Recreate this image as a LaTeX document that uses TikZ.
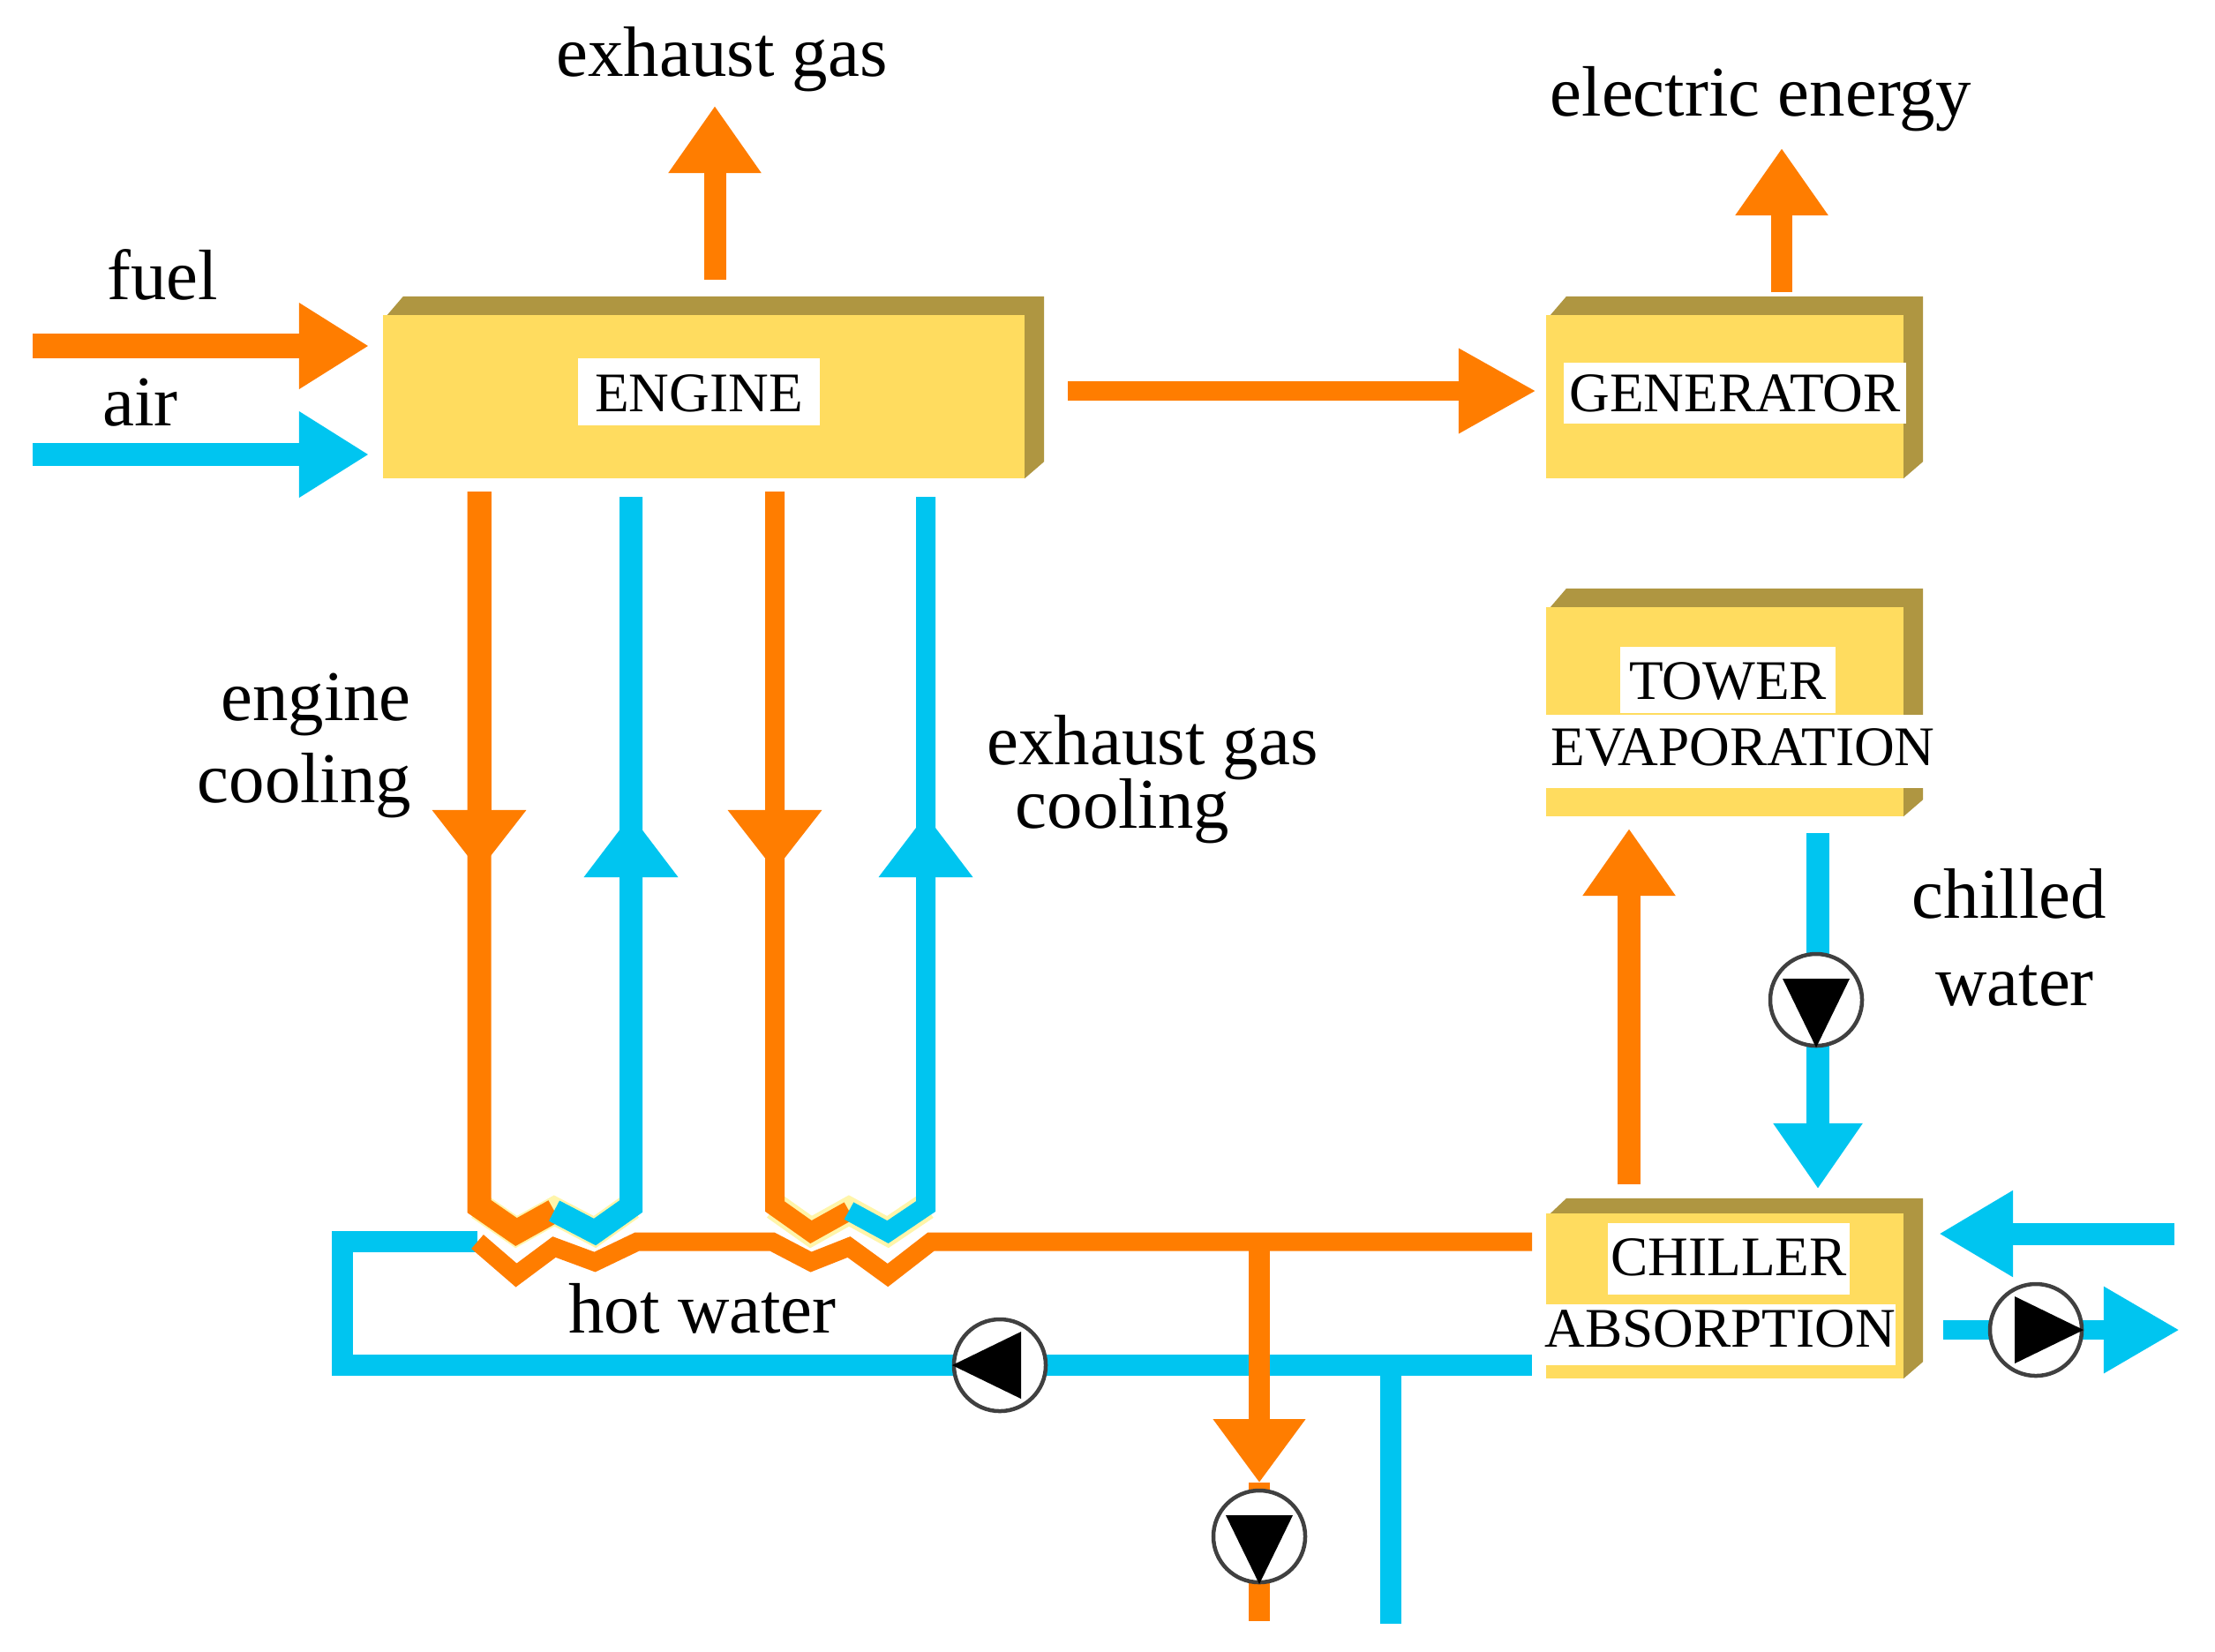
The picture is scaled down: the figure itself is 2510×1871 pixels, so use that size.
\documentclass[tikz,border=0pt]{standalone}
\usepackage{fontspec}
\setmainfont{Liberation Serif}
\usetikzlibrary{arrows.meta,calc,backgrounds}
\definecolor{orng}{RGB}{255,125,0}
\definecolor{blu}{RGB}{0,197,240}
\definecolor{boxy}{RGB}{255,220,95}
\definecolor{boxd}{RGB}{175,150,65}
\definecolor{pale}{RGB}{255,245,170}
\tikzset{
 face/.style={fill=boxy,inner sep=0pt,outer sep=0pt,minimum width=#1},
 biglabel/.style={font=\fontsize{23}{25}\selectfont,anchor=base,inner sep=0pt},
 boxlabel/.style={font=\fontsize{18}{20}\selectfont,anchor=base,inner xsep=0pt,inner ysep=0pt,fill=white},
 pump/.style={circle,draw=black!75,line width=0.045cm,fill=white,minimum size=1.04cm,inner sep=0pt},
 oline/.style={draw=orng,line width=#1,line join=miter},
 oline/.default=0.24cm,
 bline/.style={draw=blu,line width=#1,line join=miter},
 bline/.default=0.24cm,
 head/.style={-{Triangle[length=0.76cm,width=1.0cm]}},
}
\newcommand{\bevel}[2]{\fill[boxd] ($(#1.north west)+(5,0)$) -- ($(#1.north west)+(23,-#2)$) -- ($(#1.north east)+(22,-#2)$) -- ($(#1.south east)+(22,-19)$) -- (#1.south east) -- (#1.north east) -- cycle;}
\newcommand{\pumptri}[2]{\begin{scope}[shift={(#1.center)},rotate=#2]\fill[black] (54,0) -- (-24,38) -- (-24,-38) -- cycle;\end{scope}}
\begin{document}
\begin{tikzpicture}[x=0.01cm,y=-0.01cm]
\useasboundingbox (0,0) rectangle (2510,1871);
\begin{scope}[on background layer]
\fill[white] (0,0) rectangle (2510,1871);
\end{scope}
% boxes (front faces)
\node[face=7.27cm,minimum height=1.85cm] (engine) at (797.5,449.5) {};
\node[face=4.05cm,minimum height=1.85cm] (generator) at (1954.5,449.5) {};
\node[face=4.05cm,minimum height=2.37cm] (tower) at (1954.5,806.5) {};
\node[face=4.05cm,minimum height=1.87cm] (chiller) at (1954.5,1468.5) {};
\bevel{engine}{21}\bevel{generator}{21}\bevel{tower}{21}\bevel{chiller}{17}
% box labels
\node[boxlabel,minimum width=2.73cm,text height=0.60cm,text depth=0.16cm] (lengine) at (792,466) {ENGINE};
\node[boxlabel,minimum width=3.88cm,text height=0.55cm,text depth=0.14cm] (lgenerator) at (1966,466) {GENERATOR};
\node[boxlabel,minimum width=2.43cm,text height=0.59cm,text depth=0.16cm] (ltower) at (1958,792) {TOWER};
\node[boxlabel,minimum width=4.51cm,text height=0.57cm,text depth=0.26cm] (levap) at (1975,867) {EVAPORATION};
\node[boxlabel,minimum width=2.74cm,text height=0.59cm,text depth=0.22cm] (lchiller) at (1959,1445) {CHILLER};
\node[boxlabel,minimum width=3.94cm,text height=0.48cm,text depth=0.21cm] (labsorp) at (1949,1526) {ABSORPTION};
% free labels
\node[biglabel] (texh) at (818,86) {exhaust gas};
\node[biglabel] (tele) at (1995,131) {electric energy};
\node[biglabel] (tfuel) at (184,339) {fuel};
\node[biglabel] (tair) at (159,482) {air};
\node[biglabel] (teng) at (358,816) {engine};
\node[biglabel] (tcool) at (345,909) {cooling};
\node[biglabel] (texh2) at (1306,866) {exhaust gas};
\node[biglabel] (tcool2) at (1272,938) {cooling};
\node[biglabel] (tchil) at (2277,1040) {chilled};
\node[biglabel] (twat) at (2283,1139) {water};
\node[biglabel] (thot) at (796,1510) {hot water};
% pumps
\node[pump] (p1) at (1133,1547) {};
\node[pump] (p2) at (1427,1741) {};
\node[pump] (p3) at (2058,1133) {};
\node[pump] (p4) at (2307,1507) {};
\pumptri{p1}{180}\pumptri{p2}{-90}\pumptri{p3}{-90}\pumptri{p4}{0}
% free ends
\coordinate (a1) at (810,317); \coordinate (a2) at (810,120);
\coordinate (b1) at (2019,331); \coordinate (b2) at (2019,168);
\coordinate (c1) at (37,392); \coordinate (c2) at (418,392);
\coordinate (d1) at (37,515); \coordinate (d2) at (418,515);
\coordinate (e1) at (1210,443); \coordinate (e2) at (1741,443);
\coordinate (o1t) at (543,557); \coordinate (o1h) at (543,987); \coordinate (o1b) at (543,1367);
\coordinate (u1t) at (715,563); \coordinate (u1h) at (715,923); \coordinate (u1b) at (715,1367);
\coordinate (o2t) at (878,557); \coordinate (o2h) at (878,987); \coordinate (o2b) at (878,1367);
\coordinate (u2t) at (1049,563); \coordinate (u2h) at (1049,923); \coordinate (u2b) at (1049,1367);
\coordinate (hL) at (541,1407); \coordinate (hR) at (1736,1407);
\coordinate (cL) at (388,1407); \coordinate (cB) at (388,1547); \coordinate (rR) at (1736,1547);
\coordinate (rj) at (1576,1547); \coordinate (rb) at (1576,1840);
\coordinate (hj) at (1427,1407); \coordinate (ht) at (1427,1680); \coordinate (hb) at (1427,1837);
\coordinate (f1) at (1846,1342); \coordinate (f2) at (1846,939);
\coordinate (g1) at (2060,944); \coordinate (g2) at (2060,1347);
\coordinate (k1) at (2464,1398); \coordinate (k2) at (2197,1398);
\coordinate (m1) at (2202,1507); \coordinate (m2) at (2470,1507);
\begin{scope}[on background layer]
% hot water loop (blue)
\draw[bline=0.24cm] (hL) -- (cL) -- (cB) -- (rR);
\draw[bline=0.24cm] (rj) -- (rb);
% simple arrows
\draw[oline=0.25cm,head] (a1) -- (a2);
\draw[oline=0.24cm,head] (b1) -- (b2);
\draw[oline=0.28cm,-{Triangle[length=0.79cm,width=0.92cm]}] (c1) -- (c2);
\draw[bline=0.26cm,-{Triangle[length=0.79cm,width=0.92cm]}] (d1) -- (d2);
\draw[oline=0.22cm,-{Triangle[length=0.88cm,width=0.9cm]}] (e1) -- (e2);
\draw[oline=0.26cm,head] (f1) -- (f2);
\draw[bline=0.26cm,-{Triangle[length=0.74cm,width=0.96cm]}] (g1) -- (g2);
\draw[bline=0.25cm,-{Triangle[length=0.84cm,width=0.92cm]}] (k1) -- (k2);
\draw[bline=0.22cm,-{Triangle[length=0.86cm,width=0.92cm]}] (m1) -- (m2);
% lower heating coils and hot water main
\draw[oline=0.21cm] (hL) -- (585,1445) -- (628,1413) -- (674,1430) -- (722,1407) -- (875,1407) -- (919,1430) -- (962,1413) -- (1006,1445) -- (1055,1407) -- (hR);
% upper coils
\draw[draw=pale,line width=0.31cm,line join=miter] (o1b) -- (585,1396) -- (628,1372) -- (674,1396) -- (u1b);
\draw[draw=pale,line width=0.31cm,line join=miter] (o2b) -- (919,1396) -- (962,1372) -- (1006,1396) -- (u2b);
\draw[oline=0.27cm] (o1t) -- (o1b) -- (585,1396) -- (628,1372);
\draw[bline=0.26cm] (u1t) -- (u1b) -- (674,1396) -- (628,1372);
\draw[oline=0.22cm] (o2t) -- (o2b) -- (919,1396) -- (962,1372);
\draw[bline=0.22cm] (u2t) -- (u2b) -- (1006,1396) -- (962,1372);
\draw[oline=0.27cm,-{Triangle[length=0.69cm,width=1.02cm]}] (o1t) -- (o1h);
\draw[bline=0.26cm,-{Triangle[length=0.71cm,width=1.02cm]}] (u1b) -- (u1h);
\draw[oline=0.22cm,-{Triangle[length=0.69cm,width=1.02cm]}] (o2t) -- (o2h);
\draw[bline=0.22cm,-{Triangle[length=0.71cm,width=1.02cm]}] (u2b) -- (u2h);
% hot water branch crossing return line
\draw[oline=0.24cm,-{Triangle[length=0.72cm,width=1.0cm]}] (hj) -- (ht);
\draw[oline=0.24cm] (ht) -- (hb);
\end{scope}
\end{tikzpicture}
\end{document}
